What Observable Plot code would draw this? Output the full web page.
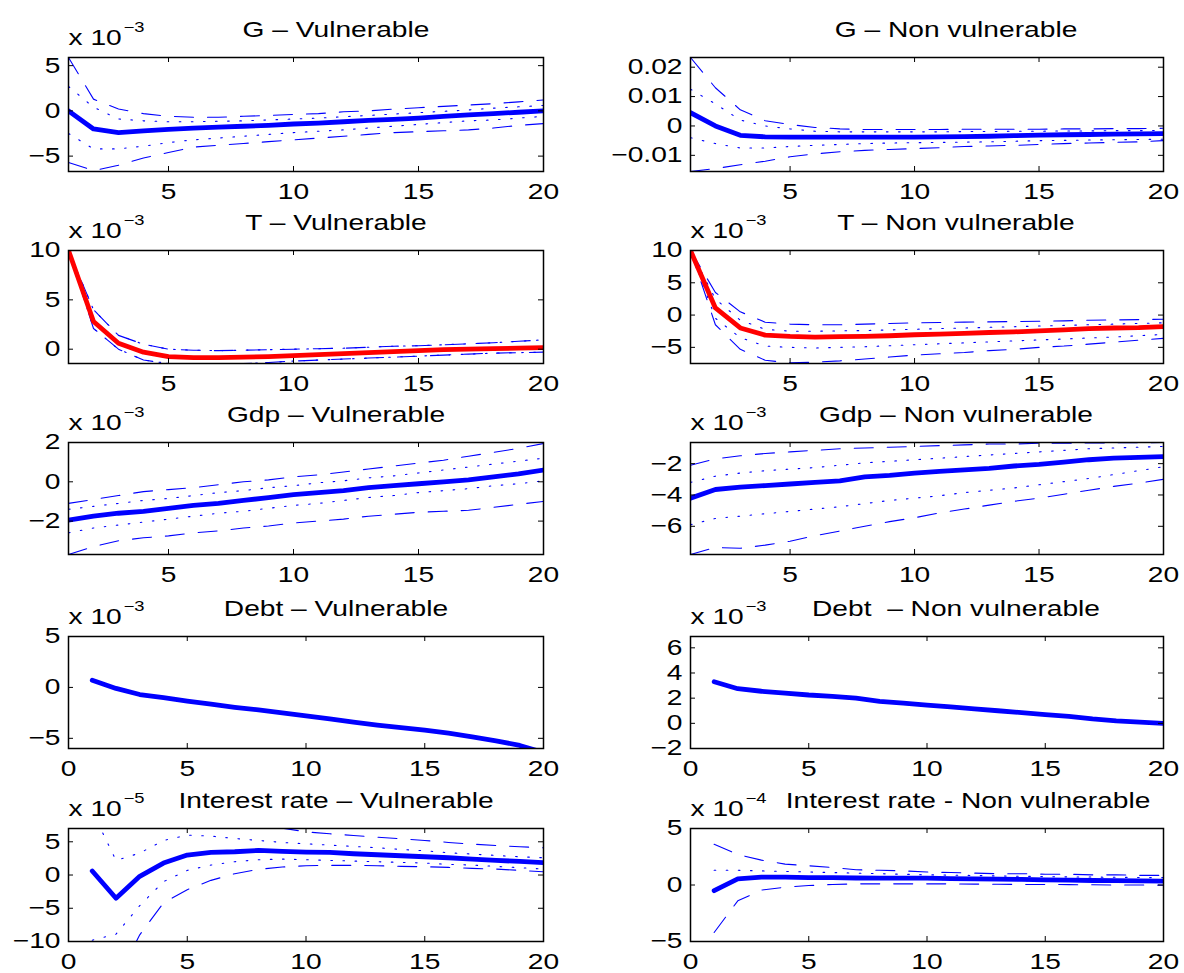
<!DOCTYPE html>
<html>
<head>
<meta charset="utf-8">
<script src="https://cdn.jsdelivr.net/npm/d3@7"></script>
<script src="https://cdn.jsdelivr.net/npm/@observablehq/plot@0.6"></script>
<style>
  html, body { margin: 0; padding: 0; background: #fff; }
  #root { position: relative; width: 1184px; height: 973px; overflow: hidden; }
  .panel { position: absolute; }
</style>
</head>
<body>
<div id="root"></div>
<script>
// ---------------- data ----------------
const periods = [1,2,3,4,5,6,7,8,9,10,11,12,13,14,15,16,17,18,19,20];

// G – Vulnerable (x 10^-3)
const gVulMed    = [0.0,-2.0,-2.4,-2.2,-2.05,-1.9,-1.8,-1.7,-1.6,-1.45,-1.35,-1.2,-1.05,-0.95,-0.8,-0.6,-0.45,-0.3,-0.15,0.0];
const gVulDashHi = [5.9,1.3,0.2,-0.3,-0.6,-0.7,-0.7,-0.6,-0.5,-0.4,-0.3,-0.1,0.0,0.2,0.35,0.5,0.65,0.8,1.0,1.2];
const gVulDotHi  = [2.7,0.4,-0.9,-1.1,-1.2,-1.2,-1.15,-1.1,-1.0,-0.9,-0.8,-0.65,-0.5,-0.35,-0.2,-0.05,0.1,0.3,0.45,0.6];
const gVulDotLo  = [-2.5,-4.2,-4.2,-3.9,-3.5,-3.2,-3.0,-2.8,-2.6,-2.4,-2.25,-2.1,-1.9,-1.7,-1.5,-1.3,-1.1,-1.0,-0.8,-0.6];
const gVulDashLo = [-5.7,-6.6,-6.0,-5.2,-4.6,-4.0,-3.8,-3.6,-3.4,-3.2,-3.0,-2.8,-2.6,-2.4,-2.3,-2.2,-2.1,-1.9,-1.6,-1.4];

// G – Non vulnerable
const gNonMed    = [0.0045,0.0000,-0.0032,-0.0037,-0.0038,-0.0038,-0.0038,-0.0038,-0.0038,-0.0038,-0.0037,-0.0036,-0.0035,-0.0033,-0.0031,-0.0030,-0.0029,-0.0028,-0.0027,-0.0026];
const gNonDashHi = [0.0233,0.0130,0.0055,0.0018,0.0005,-0.0005,-0.0010,-0.0012,-0.0012,-0.0012,-0.0012,-0.0011,-0.0011,-0.0011,-0.0011,-0.0010,-0.0010,-0.0009,-0.0009,-0.0008];
const gNonDotHi  = [0.0125,0.0075,0.0020,0.0000,-0.0010,-0.0018,-0.0020,-0.0020,-0.0020,-0.0020,-0.0020,-0.0019,-0.0019,-0.0018,-0.0018,-0.0017,-0.0017,-0.0016,-0.0016,-0.0015];
const gNonDotLo  = [-0.0040,-0.0060,-0.0075,-0.0075,-0.0070,-0.0066,-0.0063,-0.0060,-0.0058,-0.0057,-0.0056,-0.0055,-0.0054,-0.0052,-0.0050,-0.0049,-0.0048,-0.0047,-0.0046,-0.0045];
const gNonDashLo = [-0.0155,-0.0145,-0.0132,-0.0120,-0.0105,-0.0095,-0.0088,-0.0083,-0.0080,-0.0077,-0.0074,-0.0070,-0.0068,-0.0066,-0.0063,-0.0060,-0.0058,-0.0056,-0.0054,-0.0050];

// T – Vulnerable (x 10^-3)
const tVulMed    = [10,2.8,0.6,-0.3,-0.75,-0.85,-0.85,-0.8,-0.75,-0.65,-0.55,-0.45,-0.35,-0.25,-0.15,-0.05,0.0,0.05,0.1,0.15];
const tVulDashHi = [10,4.0,1.4,0.5,0.0,-0.1,-0.15,-0.1,-0.05,0.0,0.05,0.1,0.2,0.3,0.35,0.45,0.55,0.65,0.8,0.95];
const tVulDotHi  = [10,4.0,1.4,0.5,0.0,-0.1,-0.15,-0.1,-0.05,0.0,0.05,0.1,0.2,0.3,0.35,0.45,0.55,0.65,0.8,0.95];
const tVulDotLo  = [10,2.1,0.0,-1.1,-1.45,-1.5,-1.5,-1.45,-1.35,-1.2,-1.1,-1.0,-0.9,-0.8,-0.7,-0.6,-0.5,-0.4,-0.35,-0.3];
const tVulDashLo = [10,2.1,0.0,-1.1,-1.45,-1.5,-1.5,-1.45,-1.35,-1.2,-1.1,-1.0,-0.9,-0.8,-0.7,-0.6,-0.5,-0.4,-0.35,-0.3];

// T – Non vulnerable (x 10^-3)
const tNonMed    = [10,1.1,-2.0,-3.1,-3.3,-3.4,-3.35,-3.3,-3.2,-3.05,-2.95,-2.85,-2.7,-2.6,-2.45,-2.3,-2.1,-2.0,-1.95,-1.8];
const tNonDashHi = [10,3.5,0.5,-1.1,-1.4,-1.5,-1.5,-1.4,-1.3,-1.2,-1.15,-1.1,-1.05,-1.0,-0.95,-0.9,-0.8,-0.75,-0.7,-0.65];
const tNonDotHi  = [10,2.5,-0.8,-2.2,-2.5,-2.5,-2.45,-2.4,-2.3,-2.2,-2.1,-2.0,-1.9,-1.8,-1.7,-1.6,-1.5,-1.4,-1.3,-1.2];
const tNonDotLo  = [10,-0.5,-3.5,-4.8,-5.0,-5.1,-5.0,-4.9,-4.75,-4.6,-4.45,-4.3,-4.15,-4.0,-3.85,-3.7,-3.55,-3.4,-3.2,-3.0];
const tNonDashLo = [10,-1.5,-5.3,-7.0,-7.4,-7.3,-7.1,-6.8,-6.5,-6.2,-6.0,-5.8,-5.5,-5.3,-5.0,-4.8,-4.5,-4.2,-3.9,-3.6];

// Gdp – Vulnerable (x 10^-3)
const yVulMed    = [-1.95,-1.75,-1.6,-1.5,-1.35,-1.2,-1.1,-0.95,-0.8,-0.65,-0.55,-0.45,-0.3,-0.2,-0.1,0.0,0.1,0.25,0.4,0.6];
const yVulDashHi = [-1.1,-0.9,-0.7,-0.5,-0.4,-0.3,-0.15,0.0,0.1,0.25,0.35,0.5,0.65,0.8,0.95,1.1,1.3,1.5,1.7,1.95];
const yVulDotHi  = [-1.4,-1.25,-1.1,-0.95,-0.85,-0.7,-0.55,-0.45,-0.3,-0.2,-0.05,0.05,0.2,0.3,0.45,0.6,0.75,0.9,1.05,1.2];
const yVulDotLo  = [-2.6,-2.35,-2.2,-2.05,-1.9,-1.75,-1.6,-1.5,-1.35,-1.2,-1.1,-0.95,-0.8,-0.7,-0.55,-0.45,-0.35,-0.2,-0.1,0.05];
const yVulDashLo = [-3.7,-3.3,-3.0,-2.85,-2.75,-2.6,-2.5,-2.35,-2.25,-2.1,-2.0,-1.9,-1.75,-1.65,-1.55,-1.5,-1.45,-1.3,-1.15,-1.0];

// Gdp – Non vulnerable (x 10^-3)
const yNonMed    = [-4.2,-3.65,-3.5,-3.4,-3.3,-3.2,-3.1,-2.85,-2.75,-2.6,-2.5,-2.4,-2.3,-2.15,-2.05,-1.9,-1.75,-1.65,-1.6,-1.55];
const yNonDashHi = [-2.1,-1.7,-1.5,-1.35,-1.25,-1.15,-1.05,-1.0,-0.95,-0.9,-0.85,-0.8,-0.75,-0.75,-0.7,-0.7,-0.68,-0.67,-0.66,-0.65];
const yNonDotHi  = [-3.2,-2.8,-2.6,-2.45,-2.35,-2.25,-2.1,-1.95,-1.85,-1.75,-1.65,-1.55,-1.45,-1.35,-1.25,-1.15,-1.05,-1.0,-0.95,-0.9];
const yNonDotLo  = [-5.9,-5.5,-5.35,-5.2,-5.05,-4.9,-4.75,-4.55,-4.35,-4.2,-4.05,-3.85,-3.7,-3.55,-3.35,-3.15,-2.95,-2.7,-2.45,-2.2];
const yNonDashLo = [-7.8,-7.35,-7.4,-7.2,-6.95,-6.6,-6.3,-6.0,-5.7,-5.45,-5.15,-4.9,-4.65,-4.4,-4.2,-3.95,-3.7,-3.45,-3.25,-3.0];

// Debt (x 10^-3)
const dVulMed = [0.7,-0.1,-0.7,-1.0,-1.35,-1.65,-1.95,-2.2,-2.5,-2.8,-3.1,-3.4,-3.7,-3.95,-4.2,-4.5,-4.85,-5.25,-5.7,-6.4];
const dNonMed = [3.3,2.75,2.55,2.4,2.25,2.15,2.0,1.75,1.6,1.45,1.3,1.15,1.0,0.85,0.7,0.55,0.35,0.2,0.1,0.0];

// Interest rate – Vulnerable (x 10^-5)
const rVulMed    = [0.6,-3.5,-0.2,1.8,3.0,3.4,3.5,3.7,3.55,3.45,3.4,3.2,3.05,2.9,2.75,2.6,2.4,2.2,2.05,1.85];
const rVulDashHi = [30,20,15,12,10,9,8.2,7.5,7.05,6.5,6.2,5.95,5.7,5.45,5.2,4.9,4.65,4.45,4.25,4.1];
const rVulDotHi  = [9.6,2.2,3.3,5.2,6.0,5.85,5.5,5.2,4.9,4.7,4.5,4.3,4.1,3.85,3.65,3.35,3.15,2.95,2.75,2.6];
const rVulDotLo  = [-9.8,-8.9,-4.6,-1.0,0.7,1.5,2.0,2.3,2.4,2.3,2.2,2.1,2.0,1.9,1.8,1.6,1.5,1.3,1.1,0.9];
const rVulDashLo = [-30,-16,-9,-4.2,-2.2,-0.8,0.2,0.85,1.2,1.4,1.45,1.45,1.4,1.3,1.25,1.15,1.0,0.9,0.7,0.5];

// Interest rate - Non vulnerable (x 10^-4)
const rNonMed    = [-0.5,0.55,0.7,0.7,0.65,0.65,0.62,0.6,0.6,0.6,0.57,0.55,0.52,0.5,0.45,0.43,0.4,0.38,0.36,0.35];
const rNonDashHi = [3.6,2.7,2.2,1.85,1.7,1.55,1.35,1.3,1.25,1.15,1.1,1.05,1.0,1.0,0.95,0.95,0.9,0.9,0.85,0.85];
const rNonDotHi  = [1.3,1.3,1.25,1.2,1.15,1.1,1.05,1.0,0.95,0.9,0.87,0.84,0.8,0.77,0.74,0.72,0.7,0.68,0.66,0.65];
const rNonDotLo  = [-0.55,0.45,0.6,0.6,0.55,0.55,0.52,0.5,0.5,0.5,0.47,0.45,0.42,0.4,0.35,0.33,0.3,0.28,0.26,0.25];
const rNonDashLo = [-4.2,-1.4,-0.45,-0.2,-0.05,0.05,0.1,0.1,0.1,0.1,0.1,0.08,0.07,0.05,0.05,0.03,0.02,0.0,0.0,-0.02];

// titles, exponents, ticks
const titles = [
  "G \u2013 Vulnerable", "G \u2013 Non vulnerable",
  "T \u2013 Vulnerable", "T \u2013 Non vulnerable",
  "Gdp \u2013 Vulnerable", "Gdp \u2013 Non vulnerable",
  "Debt \u2013 Vulnerable", "Debt  \u2013 Non vulnerable",
  "Interest rate \u2013 Vulnerable", "Interest rate - Non vulnerable"
];
const exponents = ["\u22123", null, "\u22123", "\u22123", "\u22123", "\u22123", "\u22123", "\u22123", "\u22125", "\u22124"];
const xTicksShort = [5, 10, 15, 20];
const xTicksFull  = [0, 5, 10, 15, 20];
const yTicks = [
  [-5, 0, 5], [-0.01, 0, 0.01, 0.02],
  [0, 5, 10], [-5, 0, 5, 10],
  [-2, 0, 2], [-6, -4, -2],
  [-5, 0, 5], [-2, 0, 2, 4, 6],
  [-10, -5, 0, 5], [-5, 0, 5]
];
const yLimits = [
  [-6.7, 5.9], [-0.0155, 0.0233],
  [-1.45, 10], [-7.5, 10],
  [-3.7, 2], [-7.8, -0.65],
  [-6, 5], [-2, 6.9],
  [-10, 7], [-5, 5]
];
const xLimits = [[1,20],[1,20],[1,20],[1,20],[1,20],[1,20],[0,20],[0,20],[0,20],[0,20]];
const series = [
  {med: gVulMed, dashHi: gVulDashHi, dotHi: gVulDotHi, dotLo: gVulDotLo, dashLo: gVulDashLo, color: "#0000ff"},
  {med: gNonMed, dashHi: gNonDashHi, dotHi: gNonDotHi, dotLo: gNonDotLo, dashLo: gNonDashLo, color: "#0000ff"},
  {med: tVulMed, dashHi: tVulDashHi, dotHi: tVulDotHi, dotLo: tVulDotLo, dashLo: tVulDashLo, color: "#ff0000"},
  {med: tNonMed, dashHi: tNonDashHi, dotHi: tNonDotHi, dotLo: tNonDotLo, dashLo: tNonDashLo, color: "#ff0000"},
  {med: yVulMed, dashHi: yVulDashHi, dotHi: yVulDotHi, dotLo: yVulDotLo, dashLo: yVulDashLo, color: "#0000ff"},
  {med: yNonMed, dashHi: yNonDashHi, dotHi: yNonDotHi, dotLo: yNonDotLo, dashLo: yNonDashLo, color: "#0000ff"},
  {med: dVulMed, color: "#0000ff"},
  {med: dNonMed, color: "#0000ff"},
  {med: rVulMed, dashHi: rVulDashHi, dotHi: rVulDotHi, dotLo: rVulDotLo, dashLo: rVulDashLo, color: "#0000ff"},
  {med: rNonMed, dashHi: rNonDashHi, dotHi: rNonDotHi, dotLo: rNonDotLo, dashLo: rNonDashLo, color: "#0000ff"}
];

// ---------------- layout ----------------
const FONT = "'Liberation Sans', Arial, Helvetica, sans-serif";
const FS = 21.5;          // font size
const STRETCH = 1.31;     // the reference's text is horizontally widened
const colFrame = [{left: 68, right: 543, titleDx: 30}, {left: 690, right: 1163, titleDx: 29}];
const rowFrame = [{top: 57, bottom: 171}, {top: 250, bottom: 363}, {top: 442, bottom: 554}, {top: 636, bottom: 748}, {top: 828, bottom: 941}];
const M = {left: 100, right: 40, top: 50, bottom: 40};

const fmt = d => (d < 0 ? "\u2212" : "") + Math.abs(d);
const root = document.getElementById("root");

series.forEach((s, i) => {
  const r = Math.floor(i / 2), c = i % 2;
  const fr = rowFrame[r], fc = colFrame[c];
  const w = fc.right - fc.left, h = fr.bottom - fr.top;
  const xt = r >= 3 ? xTicksFull : xTicksShort;
  const rows = arr => periods.map((p, k) => ({x: p, y: arr[k]}));
  const marks = [];
  const thin = {x: "x", y: "y", stroke: "#0000ff", strokeWidth: 1.1, clip: true};
  if (s.dotHi) {
    marks.push(Plot.line(rows(s.dotHi), {...thin, strokeDasharray: "1.6,10.5"}));
    marks.push(Plot.line(rows(s.dotLo), {...thin, strokeDasharray: "1.6,10.5"}));
    marks.push(Plot.line(rows(s.dashHi), {...thin, strokeDasharray: "19,14"}));
    marks.push(Plot.line(rows(s.dashLo), {...thin, strokeDasharray: "19,14"}));
  }
  marks.push(Plot.line(rows(s.med), {x: "x", y: "y", stroke: s.color, strokeWidth: 4.8, strokeLinejoin: "round", clip: true}));
  // inward ticks on all four sides
  marks.push(Plot.tickX(xt, {x: d => d, insetTop: h - 5, stroke: "black"}));
  marks.push(Plot.tickX(xt, {x: d => d, insetBottom: h - 5, stroke: "black"}));
  marks.push(Plot.tickY(yTicks[i], {y: d => d, insetRight: w - 5, stroke: "black"}));
  marks.push(Plot.tickY(yTicks[i], {y: d => d, insetLeft: w - 5, stroke: "black"}));
  marks.push(Plot.frame({stroke: "black", strokeWidth: 1.5}));
  marks.push(Plot.axisX(xt, {tickSize: 0, tickPadding: 12, fontSize: FS, label: null, tickFormat: fmt}));
  marks.push(Plot.axisY(yTicks[i], {tickSize: 0, tickPadding: 8, fontSize: FS, label: null, tickFormat: fmt}));
  marks.push(Plot.text([titles[i]], {frameAnchor: "top", dx: (i === 9 ? 41 : fc.titleDx), dy: -21, lineAnchor: "bottom", fontSize: FS, fill: "black"}));
  if (exponents[i]) {
    marks.push(Plot.text(["x 10"], {frameAnchor: "top-left", textAnchor: "start", dy: -13, lineAnchor: "bottom", fontSize: FS, fill: "black"}));
    marks.push(Plot.text([exponents[i]], {frameAnchor: "top-left", textAnchor: "start", dx: 55, dy: -26, lineAnchor: "bottom", fontSize: 14, fill: "black"}));
  }
  const chart = Plot.plot({
    width: w + M.left + M.right,
    height: h + M.top + M.bottom,
    marginLeft: M.left, marginRight: M.right, marginTop: M.top, marginBottom: M.bottom,
    x: {domain: xLimits[i], axis: null},
    y: {domain: yLimits[i], axis: null},
    style: {fontFamily: FONT, fontSize: FS + "px", color: "black", background: "transparent", overflow: "visible", maxWidth: "none"},
    marks
  });
  // widen every text horizontally around its own anchor point
  chart.querySelectorAll("text").forEach(el => {
    const t = el.getAttribute("transform");
    if (t) {
      el.setAttribute("transform", t + ` scale(${STRETCH},1)`);
    } else {
      const x = +(el.getAttribute("x") || 0);
      el.setAttribute("transform", `translate(${x},0) scale(${STRETCH},1) translate(${-x},0)`);
    }
  });
  const div = document.createElement("div");
  div.className = "panel";
  div.style.left = (fc.left - M.left) + "px";
  div.style.top = (fr.top - M.top) + "px";
  div.appendChild(chart);
  root.appendChild(div);
});
</script>
</body>
</html>
